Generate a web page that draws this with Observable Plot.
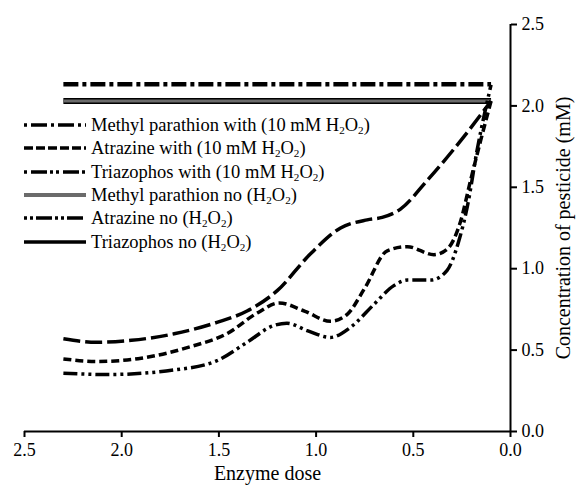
<!DOCTYPE html>
<html><head><meta charset="utf-8">
<script src="https://cdn.jsdelivr.net/npm/d3@7"></script>
<script src="https://cdn.jsdelivr.net/npm/@observablehq/plot@0.6"></script>
<style>
body{margin:0;background:#fff;}
#wrap{position:relative;width:577px;height:487px;font-family:"Liberation Serif","Times New Roman",serif;}
.row{position:absolute;left:24px;height:22px;display:flex;align-items:center;white-space:nowrap;font-size:18.5px;line-height:1;color:#000;}
.row svg{margin-right:5px;flex:none}
sub{font-size:0.6em;vertical-align:-0.3em;line-height:0}
g[aria-label="x-axis tick label"] text, g[aria-label="y-axis tick label"] text{font-size:18px}
g[aria-label="x-axis label"] text, g[aria-label="y-axis label"] text{font-size:20px}
</style></head><body><div id="wrap"></div>
<script>
// ---- data ----
const seriesNames = [
  "Methyl parathion with (10 mM H2O2)",
  "Atrazine with (10 mM H2O2)",
  "Triazophos with (10 mM H2O2)",
  "Methyl parathion no (H2O2)",
  "Atrazine no (H2O2)",
  "Triazophos no (H2O2)"
];
const mpWithDose = [2.3, 2.13, 1.95, 1.73, 1.51, 1.355, 1.2, 1.03, 0.874, 0.737, 0.66, 0.566, 0.43, 0.257, 0.1];
const mpWithConc = [0.57, 0.548, 0.56, 0.60, 0.67, 0.74, 0.865, 1.09, 1.25, 1.30, 1.315, 1.366, 1.54, 1.785, 2.03];
const atWithDose = [2.3, 2.13, 1.9, 1.65, 1.46, 1.30, 1.19, 1.06, 0.926, 0.84, 0.75, 0.634, 0.53, 0.394, 0.326, 0.257, 0.206, 0.154, 0.1];
const atWithConc = [0.446, 0.43, 0.45, 0.52, 0.60, 0.73, 0.79, 0.74, 0.677, 0.72, 0.88, 1.11, 1.135, 1.086, 1.12, 1.29, 1.54, 1.785, 2.03];
const tzWithDose = [2.3, 2.07, 1.73, 1.51, 1.355, 1.22, 1.15, 1.046, 0.926, 0.823, 0.703, 0.6, 0.53, 0.41, 0.326, 0.266, 0.223, 0.17, 0.1];
const tzWithConc = [0.358, 0.35, 0.378, 0.435, 0.548, 0.65, 0.665, 0.62, 0.578, 0.64, 0.78, 0.896, 0.93, 0.93, 0.99, 1.17, 1.376, 1.74, 2.13];
const noDose = [2.3, 1.2, 0.1];
const mpNoConc = [2.03, 2.03, 2.03];
const atNoConc = [2.133, 2.133, 2.133];
const tzNoConc = [2.03, 2.03, 2.03];
const xTicks = [2.5, 2.0, 1.5, 1.0, 0.5, 0.0];
const yTicks = [0.0, 0.5, 1.0, 1.5, 2.0, 2.5];

// ---- build tables ----
const toRows = (xs, ys) => xs.map((x, i) => ({x, y: ys[i]}));
const mpWith = toRows(mpWithDose, mpWithConc);
const atWith = toRows(atWithDose, atWithConc);
const tzWith = toRows(tzWithDose, tzWithConc);
const mpNo = toRows(noDose, mpNoConc);
const atNo = toRows(noDose, atNoConc);
const tzNo = toRows(noDose, tzNoConc);

const lineOpts = {x: "x", y: "y", curve: "monotone-x", strokeLinecap: "butt"};

const chart = Plot.plot({
  width: 577, height: 487,
  marginTop: 24, marginRight: 67, marginBottom: 56, marginLeft: 24,
  style: {fontFamily: '"Liberation Serif","Times New Roman",serif', fontSize: "18px", background: "white", color: "black"},
  x: {domain: [2.5, 0], ticks: xTicks},
  y: {domain: [0, 2.5], ticks: yTicks},
  marks: [
    Plot.line(tzNo, {...lineOpts, stroke: "black", strokeWidth: 6}),
    Plot.line(mpNo, {...lineOpts, stroke: "#6b6b6b", strokeWidth: 3}),
    Plot.line(atNo, {...lineOpts, stroke: "black", strokeWidth: 4.5, strokeDasharray: "15,4,4,4"}),
    Plot.line(mpWith, {...lineOpts, stroke: "black", strokeWidth: 3.5, strokeDasharray: "17,5"}),
    Plot.line(atWith, {...lineOpts, stroke: "black", strokeWidth: 3.5, strokeDasharray: "8,4"}),
    Plot.line(tzWith, {...lineOpts, stroke: "black", strokeWidth: 3.5, strokeDasharray: "14,4,3,4,3,4"}),
    Plot.ruleY([0], {stroke: "black", strokeWidth: 2}),
    Plot.ruleX([0], {stroke: "black", strokeWidth: 2}),
    Plot.axisX({ticks: xTicks, tickFormat: d3.format(".1f"), tickSize: 6, tickPadding: 6, strokeWidth: 2,
      label: "Enzyme dose", labelAnchor: "center", labelOffset: 48, labelArrow: "none"}),
    Plot.axisY({anchor: "right", ticks: yTicks, tickFormat: d3.format(".1f"), tickSize: 6, tickPadding: 5, strokeWidth: 2,
      label: "Concentration of pesticide (mM)", labelAnchor: "center", labelOffset: 59, labelArrow: "none"})
  ]
});
const wrap = document.getElementById("wrap");
wrap.appendChild(chart);

// ---- legend ----
const legendStyles = [
  {stroke: "black", width: 3.5, dash: "3,4,16,4"},
  {stroke: "black", width: 3.5, dash: "9,3"},
  {stroke: "black", width: 3.5, dash: "3,4,16,3,3,3"},
  {stroke: "#6b6b6b", width: 4, dash: null},
  {stroke: "black", width: 3.5, dash: "3,3,3,3,16,3"},
  {stroke: "black", width: 3.5, dash: null}
];
const rowCenters = [125, 148, 172, 195, 218, 242];
seriesNames.forEach((name, i) => {
  const row = document.createElement("div");
  row.className = "row";
  row.style.top = (rowCenters[i] - 11) + "px";
  const s = legendStyles[i];
  row.innerHTML = `<svg width="62" height="10"><line x1="0" y1="5" x2="62" y2="5" stroke="${s.stroke}" stroke-width="${s.width}" ${s.dash ? `stroke-dasharray="${s.dash}"` : ""}/></svg>` +
    `<span>${name.replace("H2O2", "H<sub>2</sub>O<sub>2</sub>")}</span>`;
  wrap.appendChild(row);
});
</script></body></html>
